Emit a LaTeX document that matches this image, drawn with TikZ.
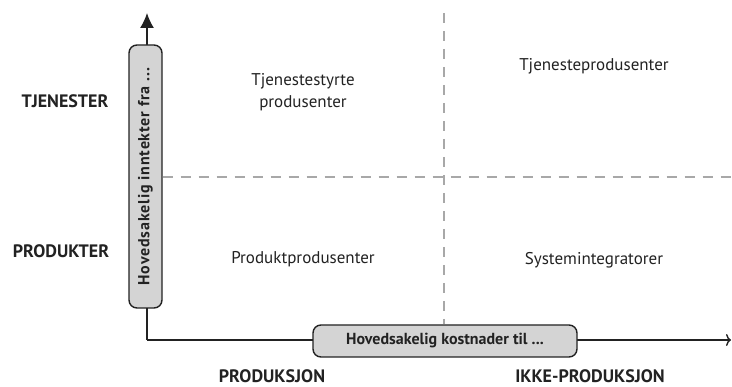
\documentclass[tikz,border=0pt]{standalone}
\usepackage{fontspec}
\setmainfont{PT Sans}
\usetikzlibrary{arrows.meta}
\definecolor{boxfill}{HTML}{D4D4D4}
\definecolor{gridgray}{HTML}{A8A8A8}
\definecolor{ink}{HTML}{222222}
\tikzset{
  axisline/.style={draw=ink, line width=1.4pt},
  axisbox/.style={draw=ink, fill=boxfill, line width=1.4pt, rounded corners=8pt,
    inner sep=0pt, text=ink},
  divider/.style={draw=gridgray, line width=1.3pt, dash pattern=on 10pt off 8pt},
  axislabel/.style={font=\fontsize{18}{20}\selectfont\bfseries, text=ink},
  quadtext/.style={font=\fontsize{17}{22}\selectfont, text=ink, align=center}
}
\begin{document}
\begin{tikzpicture}[x=1pt,y=-1pt]
\useasboundingbox (0,0) rectangle (732,387);

% axis end points
\coordinate (origin) at (147,340);
\coordinate (ytip) at (147,13);
\coordinate (xtip) at (731,340);

% axes
\draw[axisline, -{Latex[length=15pt,width=14pt]}] (origin) -- (ytip);
\draw[axisline, -{To[length=5pt,width=12pt]}] (origin) -- (xtip);

% axis boxes
\node[axisbox, rotate=90, minimum width=263pt, minimum height=33pt,
  font=\fontsize{16}{18}\selectfont\bfseries\addfontfeatures{LetterSpace=5}]
  (vbox) at (145.5,176.5) {Hovedsakelig inntekter fra ...};
\node[axisbox, minimum width=264pt, minimum height=32pt,
  font=\fontsize{16}{18}\selectfont\bfseries]
  (hbox) at (445,341) {Hovedsakelig kostnader til ...};

% quadrant dividers
\coordinate (vtop) at (444,13);
\coordinate (hright) at (732,177);
\coordinate (hleft) at (vbox.south |- hright);
\draw[divider] (vtop) -- (vtop |- hbox.north);
\draw[divider] (hleft) -- (hright);

% axis labels
\node[axislabel] (tjen) at (65,101) {TJENESTER};
\node[axislabel] (prod) at (61,251) {PRODUKTER};
\node[axislabel] (prodsj) at (272,376) {PRODUKSJON};
\node[axislabel] (ikke) at (590,376) {IKKE-PRODUKSJON};

% quadrants
\node[quadtext] (q1) at (303,92) {Tjenestestyrte\\produsenter};
\node[quadtext] (q2) at (594,66) {Tjenesteprodusenter};
\node[quadtext] (q3) at (303,259) {Produktprodusenter};
\node[quadtext] (q4) at (594,260) {Systemintegratorer};
\end{tikzpicture}
\end{document}
